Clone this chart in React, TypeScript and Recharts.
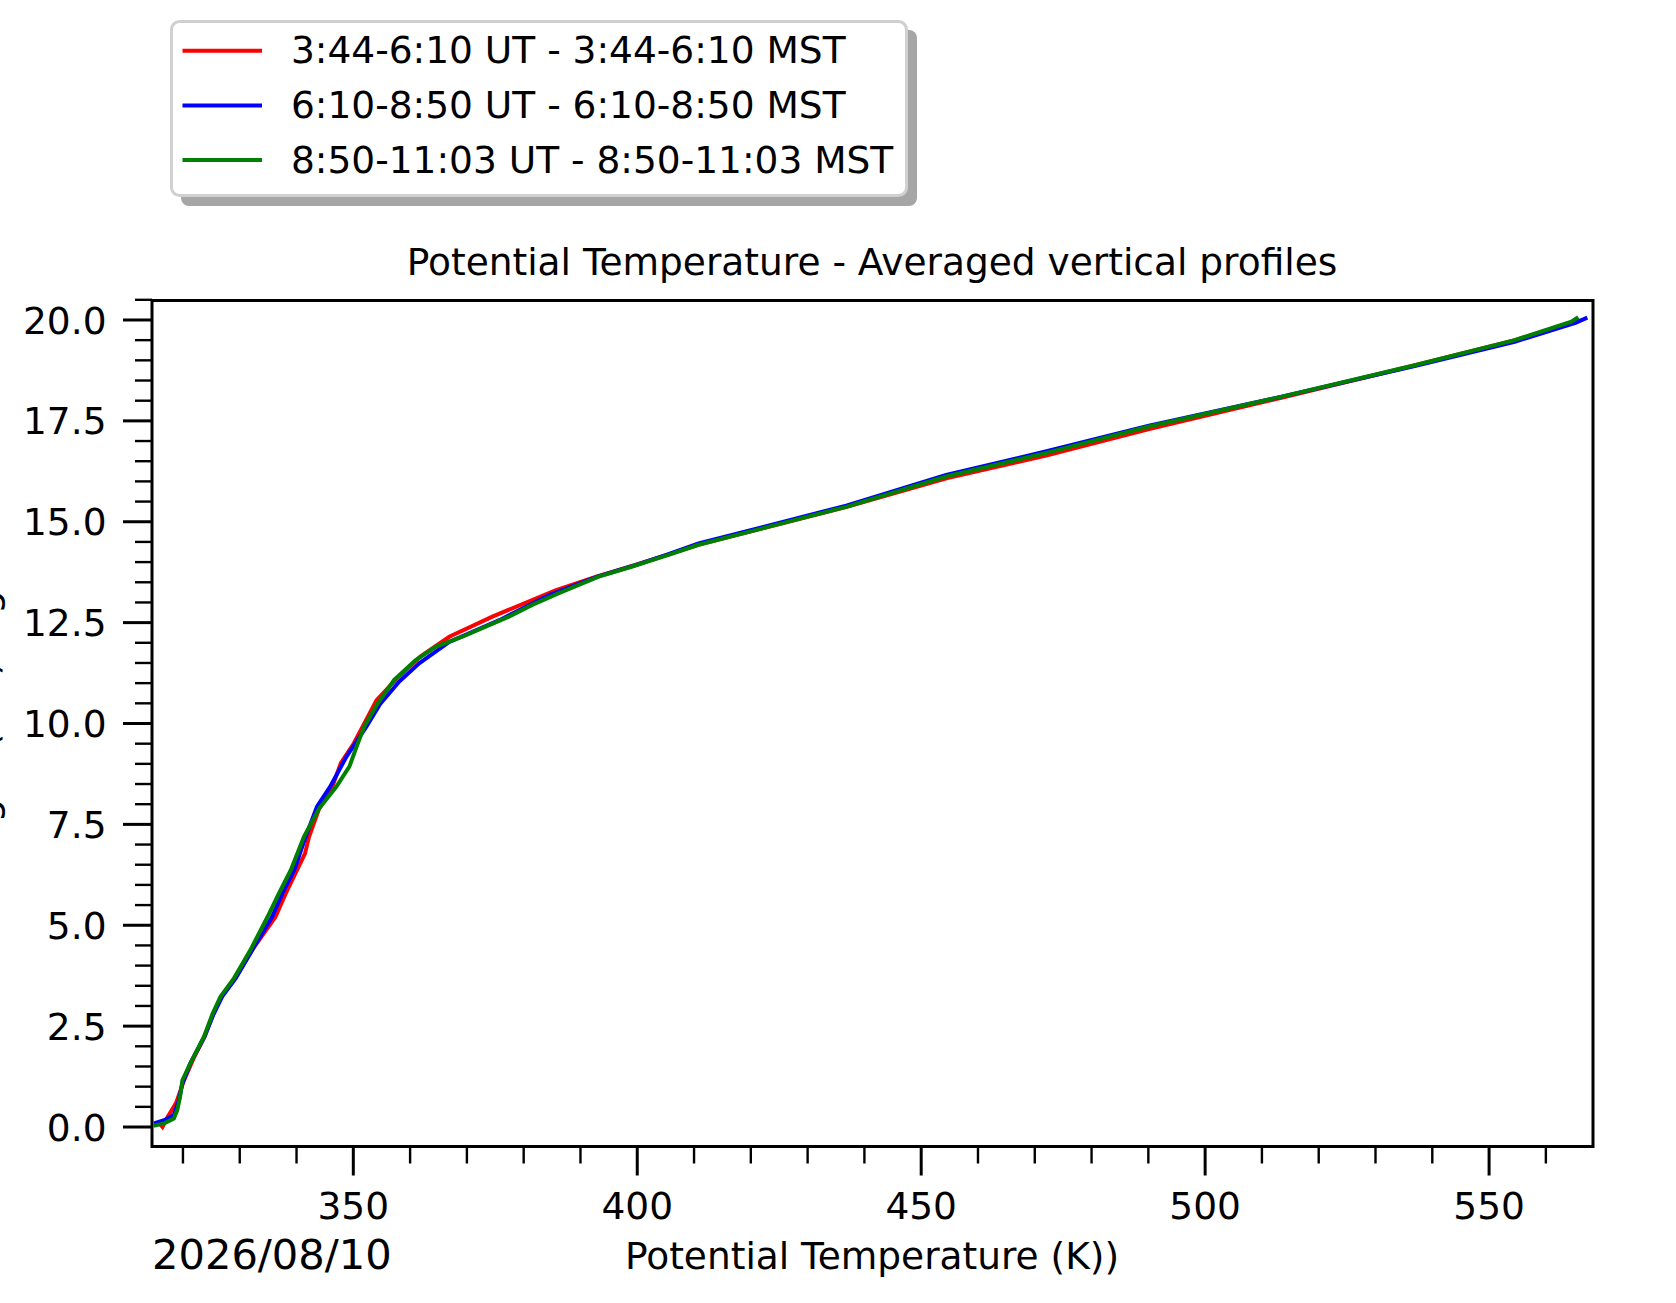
import { LineChart, Line, XAxis, YAxis, ReferenceArea } from "recharts";

const FONT = "DejaVu Sans";

// 3:44-6:10 UT
const HEIGHT_RED = [
  0.05, 0.1, 0.0, 0.25, 0.46, 0.6, 1.16, 1.74, 2.24, 2.8, 3.23, 3.69, 4.39, 5.21, 5.79, 6.37, 6.78, 7.19,
  7.86, 8.43, 9.02, 9.51, 10.58, 11.12, 11.66, 12.15, 12.65, 13.3, 13.64, 13.89, 14.18, 14.43, 15.37, 16.08,
  16.64, 17.3, 18.08, 18.88, 19.5, 19.99,
];
const THETA_RED = [
  314.9, 315.8, 316.4, 317.3, 318.2, 318.8, 320.2, 322.0, 323.8, 325.3, 326.8, 329.2, 332.2, 336.3, 338.1,
  340.1, 341.5, 342.2, 343.9, 346.3, 347.8, 350.1, 354.1, 357.7, 361.8, 366.9, 374.5, 385.6, 392.8, 398.8,
  405.3, 410.7, 436.9, 454.6, 472.0, 490.3, 513.6, 537.0, 554.6, 566.0,
];

// 6:10-8:50 UT
const HEIGHT_BLUE = [
  0.09, 0.17, 0.3, 0.67, 1.08, 1.58, 2.24, 2.8, 3.23, 3.69, 4.39, 5.21, 5.79, 6.37, 7.19, 7.94, 8.43, 9.18,
  9.92, 10.5, 11.04, 11.49, 12.02, 12.56, 13.18, 13.64, 13.89, 14.2, 14.46, 15.4, 16.16, 16.74, 17.38, 18.1,
  18.86, 19.46, 19.93, 20.06,
];
const THETA_BLUE = [
  314.9, 316.7, 318.4, 319.3, 319.9, 321.3, 323.8, 325.4, 326.9, 329.3, 332.2, 335.7, 337.5, 339.6, 341.6,
  343.6, 345.9, 348.8, 352.3, 354.8, 358.1, 361.6, 366.9, 375.7, 384.5, 393.0, 398.9, 405.5, 410.8, 436.8,
  454.4, 471.9, 490.1, 513.5, 536.9, 554.5, 565.2, 567.3,
];

// 8:50-11:03 UT
const HEIGHT_GREEN = [
  0.03, 0.09, 0.21, 0.42, 0.75, 1.16, 1.58, 2.24, 2.8, 3.23, 3.69, 4.39, 5.21, 5.79, 6.37, 7.19, 7.9, 8.43,
  8.93, 9.51, 9.92, 10.5, 11.08, 11.57, 11.9, 12.15, 12.4, 12.65, 12.94, 13.23, 13.64, 13.89, 14.18, 14.43,
  15.37, 16.12, 16.7, 17.36, 18.1, 18.88, 19.5, 19.96, 20.07,
];
const THETA_GREEN = [
  314.8, 316.7, 318.4, 319.0, 319.5, 319.9, 321.3, 323.7, 325.2, 326.6, 329.0, 331.9, 334.9, 336.9, 339.0,
  341.3, 344.0, 347.0, 349.3, 350.8, 351.9, 354.3, 357.2, 361.0, 364.5, 369.2, 373.3, 377.4, 381.5, 386.2,
  393.2, 399.1, 405.5, 410.8, 436.8, 454.4, 471.9, 490.1, 513.5, 536.9, 554.5, 564.5, 565.7,
];

const SERIES = [
  { name: "3:44-6:10 UT - 3:44-6:10 MST", color: "#ff0000", heights: HEIGHT_RED, thetas: THETA_RED },
  { name: "6:10-8:50 UT - 6:10-8:50 MST", color: "#0000ff", heights: HEIGHT_BLUE, thetas: THETA_BLUE },
  { name: "8:50-11:03 UT - 8:50-11:03 MST", color: "#008000", heights: HEIGHT_GREEN, thetas: THETA_GREEN },
];

const X_DOMAIN = [314.55, 568.3];
const Y_DOMAIN = [-0.483, 20.483];
const X_MAJOR = [350, 400, 450, 500, 550];
const X_MINOR = [320, 330, 340, 360, 370, 380, 390, 410, 420, 430, 440, 460, 470, 480, 490, 510, 520, 530, 540, 560];
const Y_MAJOR = [0, 2.5, 5, 7.5, 10, 12.5, 15, 17.5, 20];
const Y_MINOR = [
  0.5, 1, 1.5, 2, 3, 3.5, 4, 4.5, 5.5, 6, 6.5, 7, 8, 8.5, 9, 9.5, 10.5, 11, 11.5, 12, 13, 13.5, 14, 14.5,
  15.5, 16, 16.5, 17, 18, 18.5, 19, 19.5, 20.5,
];

const TITLE = "Potential Temperature - Averaged vertical profiles";
const X_LABEL = "Potential Temperature (K))";
const Y_LABEL = "Height (km) a.g.l.";
const DATE_LABEL = "2026/08/10";

const FS = 37.5;

const XTick = (props: any) => {
  const { x, y, payload } = props;
  const major = X_MAJOR.includes(payload.value);
  return (
    <g>
      <line x1={x} x2={x} y1={y} y2={y + (major ? 29 : 17)} stroke="#000" strokeWidth={major ? 3 : 2.4} />
      {major && (
        <text x={x} y={y + 72.5} textAnchor="middle" fontFamily={FONT} fontSize={FS} fill="#000">
          {payload.value}
        </text>
      )}
    </g>
  );
};

const YTick = (props: any) => {
  const { x, y, payload } = props;
  const major = Y_MAJOR.includes(payload.value);
  return (
    <g>
      <line x1={x - (major ? 29 : 17)} x2={x} y1={y} y2={y} stroke="#000" strokeWidth={major ? 3 : 2.4} />
      {major && (
        <text x={x - 45.5} y={y + 13.6} textAnchor="end" fontFamily={FONT} fontSize={FS} fill="#000">
          {payload.value.toFixed(1)}
        </text>
      )}
    </g>
  );
};

export default function App() {
  return (
    <div style={{ position: "absolute", left: 0, top: 0, width: 1676, height: 1303, background: "#fff" }}>
      <LineChart width={1676} height={1303} margin={{ top: 300.5, right: 83, bottom: 155.5, left: 151 }}>
        <XAxis
          dataKey="theta"
          type="number"
          domain={X_DOMAIN}
          allowDataOverflow
          ticks={[...X_MINOR, ...X_MAJOR]}
          interval={0}
          height={1}
          tickSize={0}
          tickMargin={0}
          axisLine={false}
          tickLine={false}
          tick={<XTick />}
        />
        <YAxis
          type="number"
          domain={Y_DOMAIN}
          allowDataOverflow
          ticks={[...Y_MINOR, ...Y_MAJOR]}
          interval={0}
          width={1}
          tickSize={0}
          tickMargin={0}
          axisLine={false}
          tickLine={false}
          tick={<YTick />}
        />
        {SERIES.map((s) => (
          <Line
            key={s.name}
            name={s.name}
            data={s.heights.map((h, i) => ({ theta: s.thetas[i], height: h }))}
            dataKey="height"
            type="linear"
            stroke={s.color}
            strokeWidth={4}
            dot={false}
            activeDot={false}
            isAnimationActive={false}
          />
        ))}
        <ReferenceArea
          x1={X_DOMAIN[0]}
          x2={X_DOMAIN[1]}
          y1={Y_DOMAIN[0]}
          y2={Y_DOMAIN[1]}
          fill="none"
          fillOpacity={0}
          stroke="#000"
          strokeWidth={3}
          ifOverflow="visible"
        />
      </LineChart>
      <svg
        width={1676}
        height={1303}
        style={{ position: "absolute", left: 0, top: 0, pointerEvents: "none" }}
        fontFamily={FONT}
      >
        <text x={872} y={275} textAnchor="middle" fontSize={FS} fill="#000">
          {TITLE}
        </text>
        <text x={872} y={1269} textAnchor="middle" fontSize={FS} fill="#000">
          {X_LABEL}
        </text>
        <text x={152} y={1269} fontSize={41.6} fill="#000">
          {DATE_LABEL}
        </text>
        <text x={-3} y={720} textAnchor="middle" fontSize={FS} fill="#000" transform="rotate(-90 -3 720)">
          {Y_LABEL}
        </text>
        <rect x={181} y={30} width={736} height={176} rx={8} fill="#a6a6a6" />
        <rect x={171.5} y={21.5} width={735} height={174} rx={8} fill="#fff" stroke="#d0d0d0" strokeWidth={3} />
        {SERIES.map((s, i) => (
          <g key={s.name}>
            <line x1={182.5} x2={262} y1={50.7 + i * 54.7} y2={50.7 + i * 54.7} stroke={s.color} strokeWidth={4} />
            <text x={291} y={63.3 + i * 54.8} fontSize={FS} fill="#000">
              {s.name}
            </text>
          </g>
        ))}
      </svg>
    </div>
  );
}
